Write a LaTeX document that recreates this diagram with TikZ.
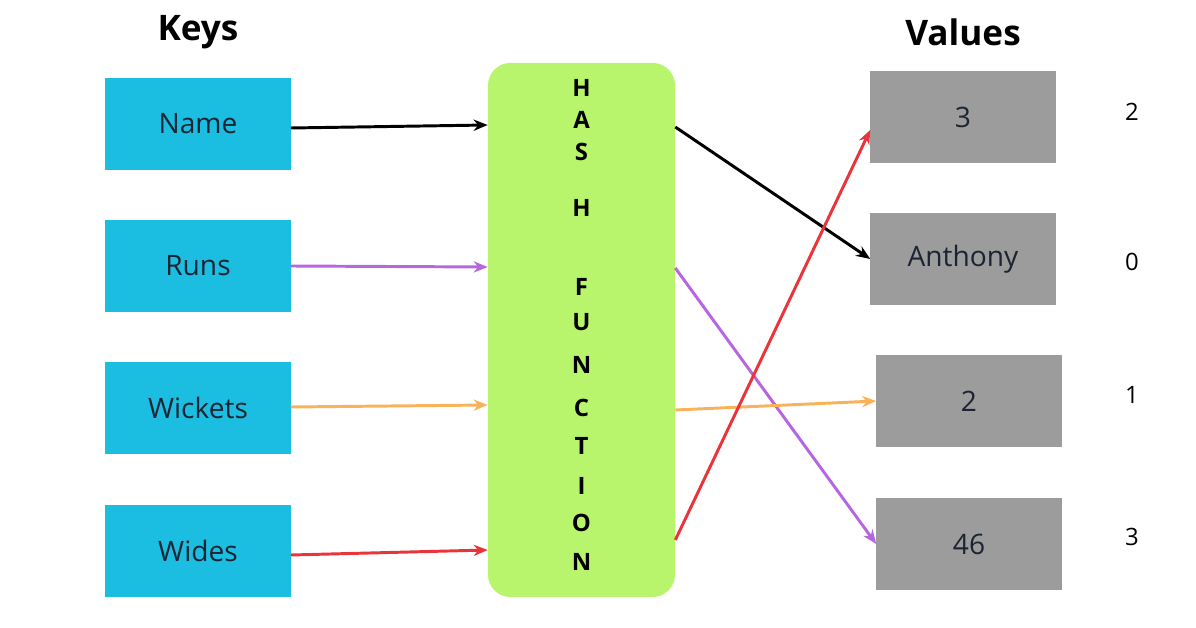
\documentclass[tikz,border=0pt]{standalone}
\usepackage{fontspec}
\setmainfont{Open Sans}
\usetikzlibrary{arrows.meta,positioning}
\definecolor{keyblue}{HTML}{1BBDE0}
\definecolor{hashgreen}{HTML}{B8F56C}
\definecolor{valgray}{HTML}{9C9C9C}
\definecolor{arrpurple}{HTML}{B766E0}
\definecolor{arrorange}{HTML}{F7B25A}
\definecolor{arrred}{HTML}{E8343A}
\definecolor{inktext}{HTML}{1C2433}
\begin{document}
\begin{tikzpicture}[x=0.025cm,y=-0.025cm,>={Stealth[length=10pt,width=8pt]},
    key/.style={fill=keyblue,text=inktext,minimum width=4.625cm,minimum height=2.3cm,inner sep=0pt,font=\fontsize{20}{23}\selectfont},
    val/.style={fill=valgray,text=inktext,minimum width=4.625cm,minimum height=2.3cm,inner sep=0pt,font=\fontsize{20}{23}\selectfont},
    title/.style={font=\bfseries\fontsize{25}{28}\selectfont},
    letter/.style={font=\bfseries\fontsize{17}{20}\selectfont},
    idx/.style={font=\fontsize{17}{20}\selectfont},
    link/.style={->,line width=2.1pt}]

                \useasboundingbox (0,0) rectangle (1196,628);

                \node[title] (keys) at (198,32) {Keys};
                \node[title] (values) at (963,32) {Values};

                \node[key] (name) at (198,124) {Name};
                \node[key] (runs) at (198,266) {Runs};
                \node[key] (wickets) at (198,408) {Wickets};
                \node[key] (wides) at (198,551) {Wides};

                \node[fill=hashgreen,rounded corners=16pt,minimum width=4.675cm,minimum height=13.35cm,inner sep=0pt] (hash) at (581.5,330) {};

                \foreach \ch/\y in {H/88,A/120,S/152,H/208,F/287,U/322,N/365,C/408,T/446,I/486,O/523,N/562}
                    {
                    \node[letter] at (581.5,\y) {\ch};
                    }

                \node[val] (v3) at (963,117) {3};
                \node[val] (vanthony) at (963,259) {Anthony};
                \node[val] (v2) at (969,401) {2};
                \node[val] (v46) at (969,544) {46};

                \node[idx] (i2) at (1132,112) {2};
                \node[idx] (i0) at (1132,262) {0};
                \node[idx] (i1) at (1132,395) {1};
                \node[idx] (i3) at (1132,537) {3};

                \draw[link,black] (name.east |- 0,128) -- (hash.west |- 0,125);
                \draw[link,arrpurple] (runs.east) -- (hash.west |- 0,267);
                \draw[link,arrorange] (wickets.east |- 0,407) -- (hash.west |- 0,405);
                \draw[link,arrred] (wides.east |- 0,555) -- (hash.west |- 0,550);

                \draw[link,black] (hash.east |- 0,127) -- (vanthony.west);
                \draw[link,arrpurple] (hash.east |- 0,268) -- (v46.west);
                \draw[link,arrorange] (hash.east |- 0,410) -- (v2.west);
                \draw[link,arrred] (hash.east |- 0,540) -- (v3.west |- 0,130);

            \end{tikzpicture}
\end{document}
